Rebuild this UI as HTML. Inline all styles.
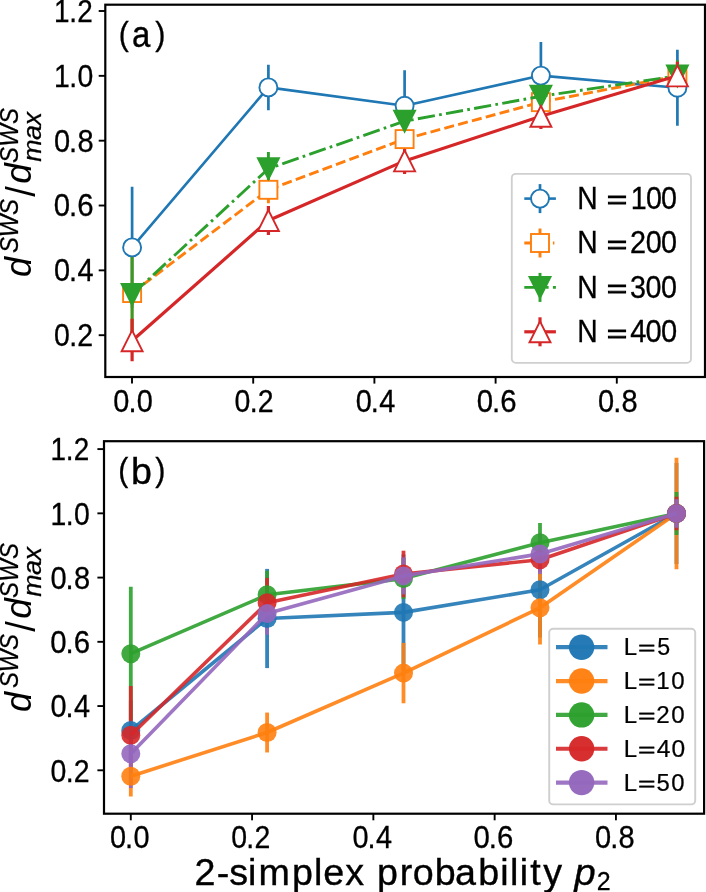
<!DOCTYPE html>
<html lang="en">
<head>
<meta charset="utf-8">
<title>d^SWS / d^SWS_max versus 2-simplex probability p2</title>
<style>
html,body{margin:0;padding:0;background:#fff;}
body{width:706px;height:892px;overflow:hidden;font-family:"Liberation Sans",sans-serif;}
svg{display:block;will-change:transform;}
svg text{font-family:"Liberation Sans",sans-serif;font-kerning:none;white-space:pre;}
</style>
</head>
<body>
<svg width="706" height="892" viewBox="0 0 706 892" role="img" aria-label="Two-panel plot of normalised SWS distance versus 2-simplex probability">
<rect x="0" y="0" width="706" height="892" fill="#fff"/>
<clipPath id="ca"><rect x="105.3" y="4.7" width="599.7" height="372.3"/></clipPath>
<g clip-path="url(#ca)">
<line x1="132.10" y1="186.80" x2="132.10" y2="308.00" stroke="#1f77b4" stroke-width="2.70"/>
<line x1="268.40" y1="64.65" x2="268.40" y2="110.15" stroke="#1f77b4" stroke-width="2.70"/>
<line x1="404.60" y1="70.15" x2="404.60" y2="141.35" stroke="#1f77b4" stroke-width="2.70"/>
<line x1="540.90" y1="42.00" x2="540.90" y2="109.20" stroke="#1f77b4" stroke-width="2.70"/>
<line x1="677.40" y1="49.75" x2="677.40" y2="125.85" stroke="#1f77b4" stroke-width="2.70"/>
<line x1="132.10" y1="249.05" x2="132.10" y2="337.05" stroke="#ff7f0e" stroke-width="2.90"/>
<line x1="268.40" y1="176.40" x2="268.40" y2="203.20" stroke="#ff7f0e" stroke-width="2.90"/>
<line x1="404.60" y1="131.10" x2="404.60" y2="147.10" stroke="#ff7f0e" stroke-width="2.90"/>
<line x1="540.90" y1="94.15" x2="540.90" y2="110.15" stroke="#ff7f0e" stroke-width="2.90"/>
<line x1="677.40" y1="63.84" x2="677.40" y2="87.84" stroke="#ff7f0e" stroke-width="2.90"/>
<line x1="132.10" y1="249.50" x2="132.10" y2="339.50" stroke="#2ca02c" stroke-width="2.90"/>
<line x1="268.40" y1="152.00" x2="268.40" y2="185.40" stroke="#2ca02c" stroke-width="2.90"/>
<line x1="404.60" y1="112.20" x2="404.60" y2="130.20" stroke="#2ca02c" stroke-width="2.90"/>
<line x1="540.90" y1="87.30" x2="540.90" y2="105.30" stroke="#2ca02c" stroke-width="2.90"/>
<line x1="677.40" y1="60.34" x2="677.40" y2="91.34" stroke="#2ca02c" stroke-width="2.90"/>
<line x1="132.10" y1="318.80" x2="132.10" y2="361.20" stroke="#d62728" stroke-width="3.20"/>
<line x1="268.40" y1="206.00" x2="268.40" y2="235.00" stroke="#d62728" stroke-width="3.20"/>
<line x1="404.60" y1="147.80" x2="404.60" y2="174.00" stroke="#d62728" stroke-width="3.20"/>
<line x1="540.90" y1="103.50" x2="540.90" y2="129.10" stroke="#d62728" stroke-width="3.20"/>
<line x1="677.40" y1="61.64" x2="677.40" y2="90.04" stroke="#d62728" stroke-width="3.20"/>
<polyline points="132.10,247.40 268.40,87.40 404.60,105.75 540.90,75.60 677.40,87.80" fill="none" stroke="#1f77b4" stroke-width="2.6" stroke-linejoin="round"/>
<circle cx="132.10" cy="247.40" r="9.00" fill="#fff" stroke="#1f77b4" stroke-width="1.9"/>
<circle cx="268.40" cy="87.40" r="9.00" fill="#fff" stroke="#1f77b4" stroke-width="1.9"/>
<circle cx="404.60" cy="105.75" r="9.00" fill="#fff" stroke="#1f77b4" stroke-width="1.9"/>
<circle cx="540.90" cy="75.60" r="9.00" fill="#fff" stroke="#1f77b4" stroke-width="1.9"/>
<circle cx="677.40" cy="87.80" r="9.00" fill="#fff" stroke="#1f77b4" stroke-width="1.9"/>
<polyline points="132.10,293.05 268.40,189.80 404.60,139.10 540.90,102.15 677.40,75.84" fill="none" stroke="#ff7f0e" stroke-width="2.9" stroke-linejoin="round" stroke-dasharray="10 4.3"/>
<rect x="123.10" y="284.05" width="18.00" height="18.00" fill="#fff" stroke="#ff7f0e" stroke-width="1.9"/>
<rect x="259.40" y="180.80" width="18.00" height="18.00" fill="#fff" stroke="#ff7f0e" stroke-width="1.9"/>
<rect x="395.60" y="130.10" width="18.00" height="18.00" fill="#fff" stroke="#ff7f0e" stroke-width="1.9"/>
<rect x="531.90" y="93.15" width="18.00" height="18.00" fill="#fff" stroke="#ff7f0e" stroke-width="1.9"/>
<rect x="668.40" y="66.84" width="18.00" height="18.00" fill="#fff" stroke="#ff7f0e" stroke-width="1.9"/>
<polyline points="132.10,294.50 268.40,168.70 404.60,121.20 540.90,96.30 677.40,75.84" fill="none" stroke="#2ca02c" stroke-width="2.9" stroke-linejoin="round" stroke-dasharray="17.3 4.3 2.7 4.3"/>
<polygon points="132.10,305.00 121.60,284.00 142.60,284.00" fill="#2ca02c" stroke="#2ca02c" stroke-width="1.9" stroke-linejoin="miter" stroke-miterlimit="10"/>
<polygon points="268.40,179.20 257.90,158.20 278.90,158.20" fill="#2ca02c" stroke="#2ca02c" stroke-width="1.9" stroke-linejoin="miter" stroke-miterlimit="10"/>
<polygon points="404.60,131.70 394.10,110.70 415.10,110.70" fill="#2ca02c" stroke="#2ca02c" stroke-width="1.9" stroke-linejoin="miter" stroke-miterlimit="10"/>
<polygon points="540.90,106.80 530.40,85.80 551.40,85.80" fill="#2ca02c" stroke="#2ca02c" stroke-width="1.9" stroke-linejoin="miter" stroke-miterlimit="10"/>
<polygon points="677.40,86.34 666.90,65.34 687.90,65.34" fill="#2ca02c" stroke="#2ca02c" stroke-width="1.9" stroke-linejoin="miter" stroke-miterlimit="10"/>
<polyline points="132.10,340.80 268.40,220.50 404.60,160.90 540.90,116.30 677.40,75.84" fill="none" stroke="#d62728" stroke-width="3.2" stroke-linejoin="round"/>
<polygon points="132.10,330.30 121.60,351.30 142.60,351.30" fill="#fff" stroke="#d62728" stroke-width="1.9" stroke-linejoin="miter" stroke-miterlimit="10"/>
<polygon points="268.40,210.00 257.90,231.00 278.90,231.00" fill="#fff" stroke="#d62728" stroke-width="1.9" stroke-linejoin="miter" stroke-miterlimit="10"/>
<polygon points="404.60,150.40 394.10,171.40 415.10,171.40" fill="#fff" stroke="#d62728" stroke-width="1.9" stroke-linejoin="miter" stroke-miterlimit="10"/>
<polygon points="540.90,105.80 530.40,126.80 551.40,126.80" fill="#fff" stroke="#d62728" stroke-width="1.9" stroke-linejoin="miter" stroke-miterlimit="10"/>
<polygon points="677.40,65.34 666.90,86.34 687.90,86.34" fill="#fff" stroke="#d62728" stroke-width="1.9" stroke-linejoin="miter" stroke-miterlimit="10"/>
</g>
<rect x="511.8" y="173.8" width="179.20" height="189.00" rx="4" fill="#fff" fill-opacity="0.8" stroke="#cacaca" stroke-opacity="0.9" stroke-width="1.8"/>
<line x1="540" y1="184.10" x2="540" y2="213.10" stroke="#1f77b4" stroke-width="2.70"/>
<line x1="524.3" y1="198.60" x2="555.9" y2="198.60" stroke="#1f77b4" stroke-width="2.6"/>
<circle cx="540.00" cy="198.60" r="9.00" fill="#fff" stroke="#1f77b4" stroke-width="1.9"/>
<text x="630.64" y="209.00" transform="scale(0.9154 1.0000)" font-size="30.90" fill="#000" stroke="#000" stroke-width="0.31">N</text>
<text transform="translate(606.68 208.40) scale(1.1655 0.8400)" font-size="30.20" fill="#000" stroke="#000" stroke-width="0.90">=</text>
<text x="679.45 695.81 712.02" y="209.00" transform="scale(0.9284 1.0000)" font-size="30.90" fill="#000" stroke="#000" stroke-width="0.31">100</text>
<line x1="540" y1="228.50" x2="540" y2="257.50" stroke="#ff7f0e" stroke-width="2.90"/>
<line x1="524.3" y1="243.00" x2="554.4" y2="243.00" stroke="#ff7f0e" stroke-width="2.9" stroke-dasharray="10 4.3"/>
<rect x="531.00" y="234.00" width="18.00" height="18.00" fill="#fff" stroke="#ff7f0e" stroke-width="1.9"/>
<text x="630.64" y="253.40" transform="scale(0.9154 1.0000)" font-size="30.90" fill="#000" stroke="#000" stroke-width="0.31">N</text>
<text transform="translate(606.68 252.80) scale(1.1655 0.8400)" font-size="30.20" fill="#000" stroke="#000" stroke-width="0.90">=</text>
<text x="677.00 693.87 710.34" y="253.40" transform="scale(0.9306 1.0000)" font-size="30.90" fill="#000" stroke="#000" stroke-width="0.31">200</text>
<line x1="540" y1="272.90" x2="540" y2="301.90" stroke="#2ca02c" stroke-width="2.90"/>
<line x1="524.3" y1="287.40" x2="555.9" y2="287.40" stroke="#2ca02c" stroke-width="2.9" stroke-dasharray="17.3 4.3 2.7 4.3"/>
<polygon points="540.00,297.90 529.50,276.90 550.50,276.90" fill="#2ca02c" stroke="#2ca02c" stroke-width="1.9" stroke-linejoin="miter" stroke-miterlimit="10"/>
<text x="630.64" y="297.80" transform="scale(0.9154 1.0000)" font-size="30.90" fill="#000" stroke="#000" stroke-width="0.31">N</text>
<text transform="translate(606.68 297.20) scale(1.1655 0.8400)" font-size="30.20" fill="#000" stroke="#000" stroke-width="0.90">=</text>
<text x="678.06 694.72 711.42" y="297.80" transform="scale(0.9292 1.0000)" font-size="30.90" fill="#000" stroke="#000" stroke-width="0.31">300</text>
<line x1="540" y1="317.30" x2="540" y2="346.30" stroke="#d62728" stroke-width="3.20"/>
<line x1="524.3" y1="331.80" x2="555.9" y2="331.80" stroke="#d62728" stroke-width="3.2"/>
<polygon points="540.00,321.30 529.50,342.30 550.50,342.30" fill="#fff" stroke="#d62728" stroke-width="1.9" stroke-linejoin="miter" stroke-miterlimit="10"/>
<text x="630.64" y="342.20" transform="scale(0.9154 1.0000)" font-size="30.90" fill="#000" stroke="#000" stroke-width="0.31">N</text>
<text transform="translate(606.68 341.60) scale(1.1655 0.8400)" font-size="30.20" fill="#000" stroke="#000" stroke-width="0.90">=</text>
<text x="669.38 685.66 701.93" y="342.20" transform="scale(0.9416 1.0000)" font-size="30.90" fill="#000" stroke="#000" stroke-width="0.31">400</text>
<rect x="105.3" y="4.7" width="599.70" height="372.30" fill="none" stroke="#000" stroke-width="2.2" stroke-linejoin="miter"/>
<line x1="132.00" y1="377.00" x2="132.00" y2="383.60" stroke="#000" stroke-width="1.9"/>
<line x1="253.20" y1="377.00" x2="253.20" y2="383.60" stroke="#000" stroke-width="1.9"/>
<line x1="374.40" y1="377.00" x2="374.40" y2="383.60" stroke="#000" stroke-width="1.9"/>
<line x1="495.60" y1="377.00" x2="495.60" y2="383.60" stroke="#000" stroke-width="1.9"/>
<line x1="616.80" y1="377.00" x2="616.80" y2="383.60" stroke="#000" stroke-width="1.9"/>
<line x1="105.30" y1="335.20" x2="98.70" y2="335.20" stroke="#000" stroke-width="1.9"/>
<line x1="105.30" y1="270.36" x2="98.70" y2="270.36" stroke="#000" stroke-width="1.9"/>
<line x1="105.30" y1="205.52" x2="98.70" y2="205.52" stroke="#000" stroke-width="1.9"/>
<line x1="105.30" y1="140.68" x2="98.70" y2="140.68" stroke="#000" stroke-width="1.9"/>
<line x1="105.30" y1="75.84" x2="98.70" y2="75.84" stroke="#000" stroke-width="1.9"/>
<line x1="105.30" y1="11.00" x2="98.70" y2="11.00" stroke="#000" stroke-width="1.9"/>
<text x="58.54 74.86 83.58" y="346.10" transform="scale(0.9237 1.0000)" font-size="30.80" fill="#000" stroke="#000" stroke-width="0.31">0.2</text>
<text x="57.48 73.61 82.52" y="281.26" transform="scale(0.9386 1.0000)" font-size="30.80" fill="#000" stroke="#000" stroke-width="0.31">0.4</text>
<text x="56.47 72.41 81.13" y="216.42" transform="scale(0.9532 1.0000)" font-size="30.80" fill="#000" stroke="#000" stroke-width="0.31">0.6</text>
<text x="57.16 73.23 82.08" y="151.58" transform="scale(0.9432 1.0000)" font-size="30.80" fill="#000" stroke="#000" stroke-width="0.31">0.8</text>
<text x="58.62 75.12 84.29" y="86.74" transform="scale(0.9208 1.0000)" font-size="30.80" fill="#000" stroke="#000" stroke-width="0.31">1.0</text>
<text x="59.82 76.52 85.51" y="21.90" transform="scale(0.9048 1.0000)" font-size="30.80" fill="#000" stroke="#000" stroke-width="0.31">1.2</text>
<text x="120.71 136.84 145.76" y="412.00" transform="scale(0.9386 1.0000)" font-size="30.80" fill="#000" stroke="#000" stroke-width="0.31">0.0</text>
<text x="254.00 270.31 279.03" y="412.00" transform="scale(0.9237 1.0000)" font-size="30.80" fill="#000" stroke="#000" stroke-width="0.31">0.2</text>
<text x="378.99 395.11 404.03" y="412.00" transform="scale(0.9386 1.0000)" font-size="30.80" fill="#000" stroke="#000" stroke-width="0.31">0.4</text>
<text x="500.16 516.11 524.83" y="412.00" transform="scale(0.9532 1.0000)" font-size="30.80" fill="#000" stroke="#000" stroke-width="0.31">0.6</text>
<text x="634.08 650.15 659.01" y="412.00" transform="scale(0.9432 1.0000)" font-size="30.80" fill="#000" stroke="#000" stroke-width="0.31">0.8</text>
<clipPath id="cb"><rect x="104.0" y="441.2" width="600.1" height="372.50000000000006"/></clipPath>
<g clip-path="url(#cb)">
<line x1="130.80" y1="700.50" x2="130.80" y2="760.50" stroke="#1f77b4" stroke-width="3.8" stroke-opacity="0.9"/>
<line x1="267.10" y1="568.90" x2="267.10" y2="668.10" stroke="#1f77b4" stroke-width="3.8" stroke-opacity="0.9"/>
<line x1="403.50" y1="554.40" x2="403.50" y2="670.40" stroke="#1f77b4" stroke-width="3.8" stroke-opacity="0.9"/>
<line x1="540.00" y1="542.20" x2="540.00" y2="637.40" stroke="#1f77b4" stroke-width="3.8" stroke-opacity="0.9"/>
<line x1="676.50" y1="462.90" x2="676.50" y2="564.10" stroke="#1f77b4" stroke-width="3.8" stroke-opacity="0.9"/>
<line x1="130.80" y1="756.00" x2="130.80" y2="796.40" stroke="#ff7f0e" stroke-width="3.8" stroke-opacity="0.9"/>
<line x1="267.10" y1="712.55" x2="267.10" y2="752.45" stroke="#ff7f0e" stroke-width="3.8" stroke-opacity="0.9"/>
<line x1="403.50" y1="642.90" x2="403.50" y2="703.30" stroke="#ff7f0e" stroke-width="3.8" stroke-opacity="0.9"/>
<line x1="540.00" y1="571.00" x2="540.00" y2="644.60" stroke="#ff7f0e" stroke-width="3.8" stroke-opacity="0.9"/>
<line x1="676.50" y1="457.85" x2="676.50" y2="569.15" stroke="#ff7f0e" stroke-width="3.8" stroke-opacity="0.9"/>
<line x1="130.80" y1="586.80" x2="130.80" y2="720.60" stroke="#2ca02c" stroke-width="3.8" stroke-opacity="0.9"/>
<line x1="267.10" y1="570.70" x2="267.10" y2="618.90" stroke="#2ca02c" stroke-width="3.8" stroke-opacity="0.9"/>
<line x1="403.50" y1="558.10" x2="403.50" y2="599.10" stroke="#2ca02c" stroke-width="3.8" stroke-opacity="0.9"/>
<line x1="540.00" y1="523.00" x2="540.00" y2="562.40" stroke="#2ca02c" stroke-width="3.8" stroke-opacity="0.9"/>
<line x1="676.50" y1="492.00" x2="676.50" y2="535.00" stroke="#2ca02c" stroke-width="3.8" stroke-opacity="0.9"/>
<line x1="130.80" y1="686.00" x2="130.80" y2="784.40" stroke="#d62728" stroke-width="3.8" stroke-opacity="0.9"/>
<line x1="267.10" y1="577.90" x2="267.10" y2="627.50" stroke="#d62728" stroke-width="3.8" stroke-opacity="0.9"/>
<line x1="403.50" y1="550.70" x2="403.50" y2="597.30" stroke="#d62728" stroke-width="3.8" stroke-opacity="0.9"/>
<line x1="540.00" y1="547.70" x2="540.00" y2="571.70" stroke="#d62728" stroke-width="3.8" stroke-opacity="0.9"/>
<line x1="676.50" y1="496.80" x2="676.50" y2="530.20" stroke="#d62728" stroke-width="3.8" stroke-opacity="0.9"/>
<line x1="130.80" y1="722.70" x2="130.80" y2="788.00" stroke="#9467bd" stroke-width="3.8" stroke-opacity="0.9"/>
<line x1="267.10" y1="592.40" x2="267.10" y2="634.80" stroke="#9467bd" stroke-width="3.8" stroke-opacity="0.9"/>
<line x1="403.50" y1="557.40" x2="403.50" y2="594.40" stroke="#9467bd" stroke-width="3.8" stroke-opacity="0.9"/>
<line x1="540.00" y1="533.80" x2="540.00" y2="574.00" stroke="#9467bd" stroke-width="3.8" stroke-opacity="0.9"/>
<line x1="676.50" y1="499.20" x2="676.50" y2="527.80" stroke="#9467bd" stroke-width="3.8" stroke-opacity="0.9"/>
<polyline points="130.80,730.50 267.10,618.50 403.50,612.40 540.00,589.80 676.50,513.50" fill="none" stroke="#1f77b4" stroke-width="3.6" stroke-linejoin="round" stroke-opacity="0.9"/>
<circle cx="130.80" cy="730.50" r="9.50" fill="#1f77b4" fill-opacity="0.9"/>
<circle cx="267.10" cy="618.50" r="9.50" fill="#1f77b4" fill-opacity="0.9"/>
<circle cx="403.50" cy="612.40" r="9.50" fill="#1f77b4" fill-opacity="0.9"/>
<circle cx="540.00" cy="589.80" r="9.50" fill="#1f77b4" fill-opacity="0.9"/>
<circle cx="676.50" cy="513.50" r="9.50" fill="#1f77b4" fill-opacity="0.9"/>
<polyline points="130.80,776.20 267.10,732.50 403.50,673.10 540.00,607.80 676.50,513.50" fill="none" stroke="#ff7f0e" stroke-width="3.6" stroke-linejoin="round" stroke-opacity="0.9"/>
<circle cx="130.80" cy="776.20" r="9.50" fill="#ff7f0e" fill-opacity="0.9"/>
<circle cx="267.10" cy="732.50" r="9.50" fill="#ff7f0e" fill-opacity="0.9"/>
<circle cx="403.50" cy="673.10" r="9.50" fill="#ff7f0e" fill-opacity="0.9"/>
<circle cx="540.00" cy="607.80" r="9.50" fill="#ff7f0e" fill-opacity="0.9"/>
<circle cx="676.50" cy="513.50" r="9.50" fill="#ff7f0e" fill-opacity="0.9"/>
<polyline points="130.80,653.70 267.10,594.80 403.50,578.60 540.00,542.70 676.50,513.50" fill="none" stroke="#2ca02c" stroke-width="3.6" stroke-linejoin="round" stroke-opacity="0.9"/>
<circle cx="130.80" cy="653.70" r="9.50" fill="#2ca02c" fill-opacity="0.9"/>
<circle cx="267.10" cy="594.80" r="9.50" fill="#2ca02c" fill-opacity="0.9"/>
<circle cx="403.50" cy="578.60" r="9.50" fill="#2ca02c" fill-opacity="0.9"/>
<circle cx="540.00" cy="542.70" r="9.50" fill="#2ca02c" fill-opacity="0.9"/>
<circle cx="676.50" cy="513.50" r="9.50" fill="#2ca02c" fill-opacity="0.9"/>
<polyline points="130.80,735.20 267.10,602.70 403.50,574.00 540.00,559.70 676.50,513.50" fill="none" stroke="#d62728" stroke-width="3.6" stroke-linejoin="round" stroke-opacity="0.9"/>
<circle cx="130.80" cy="735.20" r="9.50" fill="#d62728" fill-opacity="0.9"/>
<circle cx="267.10" cy="602.70" r="9.50" fill="#d62728" fill-opacity="0.9"/>
<circle cx="403.50" cy="574.00" r="9.50" fill="#d62728" fill-opacity="0.9"/>
<circle cx="540.00" cy="559.70" r="9.50" fill="#d62728" fill-opacity="0.9"/>
<circle cx="676.50" cy="513.50" r="9.50" fill="#d62728" fill-opacity="0.9"/>
<polyline points="130.80,753.70 267.10,613.60 403.50,575.90 540.00,553.90 676.50,513.50" fill="none" stroke="#9467bd" stroke-width="3.6" stroke-linejoin="round" stroke-opacity="0.9"/>
<circle cx="130.80" cy="753.70" r="9.50" fill="#9467bd" fill-opacity="0.9"/>
<circle cx="267.10" cy="613.60" r="9.50" fill="#9467bd" fill-opacity="0.9"/>
<circle cx="403.50" cy="575.90" r="9.50" fill="#9467bd" fill-opacity="0.9"/>
<circle cx="540.00" cy="553.90" r="9.50" fill="#9467bd" fill-opacity="0.9"/>
<circle cx="676.50" cy="513.50" r="9.50" fill="#9467bd" fill-opacity="0.9"/>
</g>
<rect x="549.2" y="628.8" width="146.00" height="175.60" rx="4" fill="#fff" fill-opacity="0.8" stroke="#cacaca" stroke-opacity="0.9" stroke-width="1.9"/>
<line x1="556" y1="647.20" x2="607.5" y2="647.20" stroke="#1f77b4" stroke-width="4.2" stroke-opacity="0.9"/>
<circle cx="581.6" cy="647.20" r="12.7" fill="#1f77b4" fill-opacity="0.97"/>
<text x="624.59" y="655.50" transform="scale(0.9988 1.0000)" font-size="24.00" fill="#000" stroke="#000" stroke-width="0.24">L</text>
<text transform="translate(638.03 655.10) scale(1.2521 0.8500)" font-size="24.00" fill="#000" stroke="#000" stroke-width="0.55">=</text>
<text x="680.43" y="655.50" transform="scale(0.9658 1.0000)" font-size="24.00" fill="#000" stroke="#000" stroke-width="0.24">5</text>
<line x1="556" y1="681.05" x2="607.5" y2="681.05" stroke="#ff7f0e" stroke-width="4.2" stroke-opacity="0.9"/>
<circle cx="581.6" cy="681.05" r="12.7" fill="#ff7f0e" fill-opacity="0.97"/>
<text x="624.59" y="689.35" transform="scale(0.9988 1.0000)" font-size="24.00" fill="#000" stroke="#000" stroke-width="0.24">L</text>
<text transform="translate(638.03 688.95) scale(1.2521 0.8500)" font-size="24.00" fill="#000" stroke="#000" stroke-width="0.55">=</text>
<text x="655.30 670.08" y="689.35" transform="scale(1.0016 1.0000)" font-size="24.00" fill="#000" stroke="#000" stroke-width="0.24">10</text>
<line x1="556" y1="714.90" x2="607.5" y2="714.90" stroke="#2ca02c" stroke-width="4.2" stroke-opacity="0.9"/>
<circle cx="581.6" cy="714.90" r="12.7" fill="#2ca02c" fill-opacity="0.97"/>
<text x="624.59" y="723.20" transform="scale(0.9988 1.0000)" font-size="24.00" fill="#000" stroke="#000" stroke-width="0.24">L</text>
<text transform="translate(638.03 722.80) scale(1.2521 0.8500)" font-size="24.00" fill="#000" stroke="#000" stroke-width="0.55">=</text>
<text x="652.63 667.54" y="723.20" transform="scale(1.0054 1.0000)" font-size="24.00" fill="#000" stroke="#000" stroke-width="0.24">20</text>
<line x1="556" y1="748.75" x2="607.5" y2="748.75" stroke="#d62728" stroke-width="4.2" stroke-opacity="0.9"/>
<circle cx="581.6" cy="748.75" r="12.7" fill="#d62728" fill-opacity="0.97"/>
<text x="624.59" y="757.05" transform="scale(0.9988 1.0000)" font-size="24.00" fill="#000" stroke="#000" stroke-width="0.24">L</text>
<text transform="translate(638.03 756.65) scale(1.2521 0.8500)" font-size="24.00" fill="#000" stroke="#000" stroke-width="0.55">=</text>
<text x="641.60 656.11" y="757.05" transform="scale(1.0235 1.0000)" font-size="24.00" fill="#000" stroke="#000" stroke-width="0.24">40</text>
<line x1="556" y1="782.60" x2="607.5" y2="782.60" stroke="#9467bd" stroke-width="4.2" stroke-opacity="0.9"/>
<circle cx="581.6" cy="782.60" r="12.7" fill="#9467bd" fill-opacity="0.97"/>
<text x="624.59" y="790.90" transform="scale(0.9988 1.0000)" font-size="24.00" fill="#000" stroke="#000" stroke-width="0.24">L</text>
<text transform="translate(638.03 790.50) scale(1.2521 0.8500)" font-size="24.00" fill="#000" stroke="#000" stroke-width="0.55">=</text>
<text x="659.89 674.75" y="790.90" transform="scale(0.9947 1.0000)" font-size="24.00" fill="#000" stroke="#000" stroke-width="0.24">50</text>
<rect x="104.0" y="441.2" width="600.10" height="372.50" fill="none" stroke="#000" stroke-width="2.2" stroke-linejoin="miter"/>
<line x1="130.80" y1="813.70" x2="130.80" y2="820.30" stroke="#000" stroke-width="1.9"/>
<line x1="252.08" y1="813.70" x2="252.08" y2="820.30" stroke="#000" stroke-width="1.9"/>
<line x1="373.36" y1="813.70" x2="373.36" y2="820.30" stroke="#000" stroke-width="1.9"/>
<line x1="494.64" y1="813.70" x2="494.64" y2="820.30" stroke="#000" stroke-width="1.9"/>
<line x1="615.92" y1="813.70" x2="615.92" y2="820.30" stroke="#000" stroke-width="1.9"/>
<line x1="104.00" y1="770.30" x2="97.40" y2="770.30" stroke="#000" stroke-width="1.9"/>
<line x1="104.00" y1="706.06" x2="97.40" y2="706.06" stroke="#000" stroke-width="1.9"/>
<line x1="104.00" y1="641.82" x2="97.40" y2="641.82" stroke="#000" stroke-width="1.9"/>
<line x1="104.00" y1="577.58" x2="97.40" y2="577.58" stroke="#000" stroke-width="1.9"/>
<line x1="104.00" y1="513.34" x2="97.40" y2="513.34" stroke="#000" stroke-width="1.9"/>
<line x1="104.00" y1="449.10" x2="97.40" y2="449.10" stroke="#000" stroke-width="1.9"/>
<text x="54.75 71.07 79.79" y="781.70" transform="scale(0.9237 1.0000)" font-size="30.80" fill="#000" stroke="#000" stroke-width="0.31">0.2</text>
<text x="53.75 69.88 78.80" y="717.46" transform="scale(0.9386 1.0000)" font-size="30.80" fill="#000" stroke="#000" stroke-width="0.31">0.4</text>
<text x="52.79 68.74 77.46" y="653.22" transform="scale(0.9532 1.0000)" font-size="30.80" fill="#000" stroke="#000" stroke-width="0.31">0.6</text>
<text x="53.45 69.52 78.37" y="588.98" transform="scale(0.9432 1.0000)" font-size="30.80" fill="#000" stroke="#000" stroke-width="0.31">0.8</text>
<text x="54.82 71.31 80.49" y="524.74" transform="scale(0.9208 1.0000)" font-size="30.80" fill="#000" stroke="#000" stroke-width="0.31">1.0</text>
<text x="55.95 72.65 81.64" y="460.50" transform="scale(0.9048 1.0000)" font-size="30.80" fill="#000" stroke="#000" stroke-width="0.31">1.2</text>
<text x="117.09 133.21 142.14" y="848.00" transform="scale(0.9386 1.0000)" font-size="30.80" fill="#000" stroke="#000" stroke-width="0.31">0.0</text>
<text x="250.40 266.72 275.44" y="848.00" transform="scale(0.9237 1.0000)" font-size="30.80" fill="#000" stroke="#000" stroke-width="0.31">0.2</text>
<text x="375.53 391.66 400.57" y="848.00" transform="scale(0.9386 1.0000)" font-size="30.80" fill="#000" stroke="#000" stroke-width="0.31">0.4</text>
<text x="496.85 512.79 521.52" y="848.00" transform="scale(0.9532 1.0000)" font-size="30.80" fill="#000" stroke="#000" stroke-width="0.31">0.6</text>
<text x="630.82 646.89 655.74" y="848.00" transform="scale(0.9432 1.0000)" font-size="30.80" fill="#000" stroke="#000" stroke-width="0.31">0.8</text>
<text transform="translate(118.73 44.70) scale(0.8025 0.8935)" font-size="37.60" fill="#000" stroke="#000" stroke-width="0.38">(</text>
<text transform="translate(131.90 47.20) scale(0.8750 1.0000)" font-size="37.60" fill="#000" stroke="#000" stroke-width="0.38">a</text>
<text transform="translate(155.32 44.70) scale(0.8125 0.8935)" font-size="37.60" fill="#000" stroke="#000" stroke-width="0.38">)</text>
<text transform="translate(118.33 481.00) scale(0.8025 0.8935)" font-size="37.60" fill="#000" stroke="#000" stroke-width="0.38">(</text>
<text transform="translate(130.88 483.50)" font-size="37.60" fill="#000" stroke="#000" stroke-width="0.38">b</text>
<text transform="translate(155.32 481.00) scale(0.8125 0.8935)" font-size="37.60" fill="#000" stroke="#000" stroke-width="0.38">)</text>
<g transform="translate(0 277.00) rotate(-90)">
<text transform="translate(-0.01 31.30) scale(0.9546 1.0000)" font-size="37.60" font-style="italic" fill="#000">d</text>
<text x="26.61 44.18 68.85" y="18.00" transform="scale(0.9000 1.0000)" font-size="26.60" font-style="italic" fill="#000" stroke="#000" stroke-width="0.27">SWS</text>
<text transform="translate(80.20 34.60) scale(1.0147 1.0830)" font-size="37.60" fill="#000">/</text>
<text transform="translate(93.16 31.30) scale(0.9789 1.0000)" font-size="37.60" font-style="italic" fill="#000">d</text>
<text x="126.61 144.79 170.07" y="18.00" transform="scale(0.9000 1.0000)" font-size="26.60" font-style="italic" fill="#000" stroke="#000" stroke-width="0.27">SWS</text>
<text x="110.14 131.04 144.83" y="41.00" transform="scale(1.0464 1.0000)" font-size="25.60" font-style="italic" fill="#000" stroke="#000" stroke-width="0.26">max</text>
</g>
<g transform="translate(0 712.00) rotate(-90)">
<text transform="translate(-0.01 31.30) scale(0.9546 1.0000)" font-size="37.60" font-style="italic" fill="#000">d</text>
<text x="26.61 44.18 68.85" y="18.00" transform="scale(0.9000 1.0000)" font-size="26.60" font-style="italic" fill="#000" stroke="#000" stroke-width="0.27">SWS</text>
<text transform="translate(80.20 34.60) scale(1.0147 1.0830)" font-size="37.60" fill="#000">/</text>
<text transform="translate(93.16 31.30) scale(0.9789 1.0000)" font-size="37.60" font-style="italic" fill="#000">d</text>
<text x="126.61 144.79 170.07" y="18.00" transform="scale(0.9000 1.0000)" font-size="26.60" font-style="italic" fill="#000" stroke="#000" stroke-width="0.27">SWS</text>
<text x="110.14 131.04 144.83" y="41.00" transform="scale(1.0464 1.0000)" font-size="25.60" font-style="italic" fill="#000" stroke="#000" stroke-width="0.26">max</text>
</g>
<text x="190.13 211.68 223.87 242.36 252.54 285.20 306.68 315.82 337.28 355.68 368.25 390.61 403.31 424.76 444.52 467.30 488.81 498.23 507.69 517.95 530.71" y="884.70" transform="scale(1.0236 1.0000)" font-size="36.80" fill="#000" stroke="#000" stroke-width="0.37">2-simplex probability</text>
<text transform="translate(574.16 884.70) scale(1.0447 1.0000)" font-size="36.80" font-style="italic" fill="#000" stroke="#000" stroke-width="0.37">p</text>
<text transform="translate(596.74 890.20) scale(0.9407 1.0000)" font-size="26.60" fill="#000" stroke="#000" stroke-width="0.27">2</text>
</svg>
</body>
</html>
